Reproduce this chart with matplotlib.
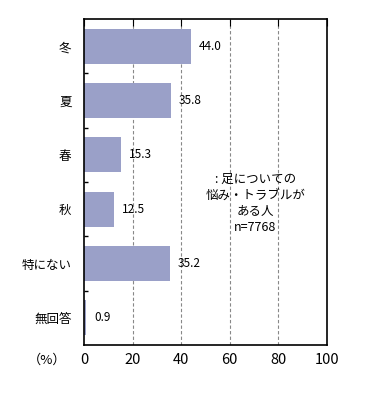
import numpy as np
import matplotlib
matplotlib.use('Agg')
import matplotlib.pyplot as plt

plt.rcParams['font.family'] = ['Noto Sans CJK JP', 'DejaVu Sans']

categories = ['冬', '夏', '春', '秋', '特にない', '無回答']
values = [44.0, 35.8, 15.3, 12.5, 35.2, 0.9]
xticks = [0, 20, 40, 60, 80, 100]
note = ': 足についての\n悩み・トラブルが\nある人\nn=7768'

fig = plt.figure(figsize=(3.74, 4.0), dpi=100)
ax = fig.add_axes([0.2246, 0.1375, 0.6497, 0.815])

y = np.arange(len(categories))
ax.barh(y, values, height=0.65, color='#9aa0c8', zorder=2)
for yi, v in zip(y, values):
    ax.text(v + 3.2, yi, f'{v:.1f}', va='center', ha='left', fontsize=8.5)

ax.set_xlim(0, 100)
ax.set_ylim(len(categories) - 0.5, -0.5)
ax.set_xticks(xticks)
ax.set_xticklabels([str(t) for t in xticks], fontsize=10.5)
ax.tick_params(axis='x', bottom=False, top=True, direction='in', length=5,
               labelbottom=True, pad=6)
ax.set_yticks(y)
ax.set_yticklabels(categories, fontsize=9)
ax.tick_params(axis='y', length=0, pad=9)
ax.set_yticks(np.arange(len(categories) - 1) + 0.5, minor=True)
ax.tick_params(axis='y', which='minor', direction='in', length=3, width=1)

for t in xticks[1:-1]:
    ax.axvline(t, color='#888888', linestyle=(0, (3, 2)), linewidth=0.8, zorder=1)

for s in ax.spines.values():
    s.set_linewidth(1.2)

ax.text(70.5, 2.9, note, ha='center', va='center', fontsize=9, linespacing=1.3)
fig.text(0.125, 0.1, '（%）', ha='center', va='center', fontsize=9.5)

fig.savefig('out.png', dpi=100)
